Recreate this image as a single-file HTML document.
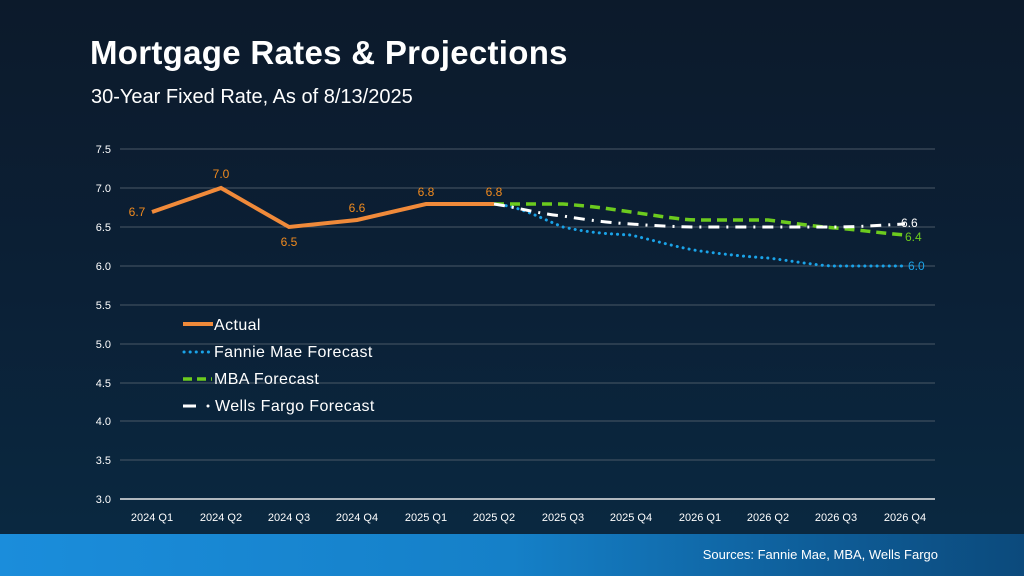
<!DOCTYPE html>
<html><head><meta charset="utf-8"><style>
html,body{margin:0;padding:0}
body{width:1024px;height:576px;overflow:hidden;position:relative;font-family:"Liberation Sans",sans-serif;background:linear-gradient(180deg,#0c1a2b 0%,#0b2036 50%,#0a2840 92%);}
.band{position:absolute;left:0;top:534px;width:1024px;height:42px;background:linear-gradient(90deg,#1b8ddb 0%,#1580c8 50%,#0e5d98 80%,#0c4a7c 100%);}
.src{position:absolute;right:86px;top:547px;color:#fff;font-size:13px}
h1{position:absolute;left:90px;top:34px;margin:0;color:#fff;font-size:33px;font-weight:bold;letter-spacing:0.3px}
.sub{position:absolute;left:91px;top:86px;color:#fff;font-size:20px}
svg{position:absolute;left:0;top:0}
</style></head><body>
<h1>Mortgage Rates &amp; Projections</h1>
<div class="sub">30-Year Fixed Rate, As of 8/13/2025</div>
<div class="band"></div>
<div class="src">Sources: Fannie Mae, MBA, Wells Fargo</div>
<svg width="1024" height="576" font-family="Liberation Sans, sans-serif">
<g stroke="#4a5866" stroke-width="1">
<line x1="120" x2="935" y1="149" y2="149"/><line x1="120" x2="935" y1="188" y2="188"/>
<line x1="120" x2="935" y1="227" y2="227"/><line x1="120" x2="935" y1="266" y2="266"/>
<line x1="120" x2="935" y1="305" y2="305"/><line x1="120" x2="935" y1="344" y2="344"/>
<line x1="120" x2="935" y1="383" y2="383"/><line x1="120" x2="935" y1="421" y2="421"/>
<line x1="120" x2="935" y1="460" y2="460"/>
</g>
<line x1="120" x2="935" y1="499" y2="499" stroke="#e8e8e8" stroke-width="1.5"/>
<g fill="#fff" font-size="11" text-anchor="end">
<text x="111" y="153">7.5</text><text x="111" y="192">7.0</text><text x="111" y="231">6.5</text>
<text x="111" y="270">6.0</text><text x="111" y="309">5.5</text><text x="111" y="348">5.0</text>
<text x="111" y="387">4.5</text><text x="111" y="425">4.0</text><text x="111" y="464">3.5</text>
<text x="111" y="503">3.0</text>
</g>
<g fill="#fff" font-size="11" text-anchor="middle">
<text x="152" y="521">2024 Q1</text><text x="221" y="521">2024 Q2</text><text x="289" y="521">2024 Q3</text>
<text x="357" y="521">2024 Q4</text><text x="426" y="521">2025 Q1</text><text x="494" y="521">2025 Q2</text>
<text x="563" y="521">2025 Q3</text><text x="631" y="521">2025 Q4</text><text x="700" y="521">2026 Q1</text>
<text x="768" y="521">2026 Q2</text><text x="836" y="521">2026 Q3</text><text x="905" y="521">2026 Q4</text>
</g>
<path d="M494,204 C520,206 540,218 563,227 C590,233 610,234 631,235 C660,242 680,248 700,251 C730,255 750,257 768,258 C800,262 820,266 836,266 L905,266" fill="none" stroke="#1aa3e8" stroke-width="3" stroke-dasharray="0.1 6" stroke-linecap="round"/>
<path d="M494,204 L563,204 C600,207 610,209 631,212 C660,216 680,220 700,220 L768,220 C800,224 820,227 836,228 C860,230 880,233 905,235" fill="none" stroke="#6ccb1e" stroke-width="3.5" stroke-dasharray="10 6"/>
<path d="M494,204 C520,208 540,214 563,216 C600,222 615,223 631,224 C660,226 680,227 700,227 L836,227 C860,227 880,225 905,224" fill="none" stroke="#fff" stroke-width="3" stroke-dasharray="11 7 2 7"/>
<polyline points="152,212 221,188 289,227 357,220 426,204 494,204" fill="none" stroke="#f08a3a" stroke-width="4" stroke-linejoin="miter"/>
<g fill="#f08a1e" font-size="12" text-anchor="middle">
<text x="137" y="216">6.7</text><text x="221" y="178">7.0</text><text x="289" y="246">6.5</text>
<text x="357" y="212">6.6</text><text x="426" y="196">6.8</text><text x="494" y="196">6.8</text>
</g>
<text x="901" y="227" fill="#fff" font-size="12">6.6</text>
<text x="905" y="241" fill="#6ccb1e" font-size="12">6.4</text>
<text x="908" y="270" fill="#1aa3e8" font-size="12">6.0</text>
<line x1="183" x2="213" y1="324" y2="324" stroke="#f08a3a" stroke-width="4"/>
<line x1="184" x2="212" y1="352" y2="352" stroke="#1aa3e8" stroke-width="3" stroke-dasharray="0.1 6" stroke-linecap="round"/>
<line x1="183" x2="212" y1="379" y2="379" stroke="#6ccb1e" stroke-width="3.5" stroke-dasharray="9 5"/>
<line x1="183" x2="196" y1="406" y2="406" stroke="#fff" stroke-width="3"/>
<circle cx="208" cy="406" r="1.5" fill="#fff"/>
<g fill="#fff" font-size="16" letter-spacing="0.4">
<text x="214" y="330">Actual</text><text x="214" y="357">Fannie Mae Forecast</text>
<text x="214" y="384">MBA Forecast</text><text x="215" y="411">Wells Fargo Forecast</text>
</g>
</svg>
</body></html>
